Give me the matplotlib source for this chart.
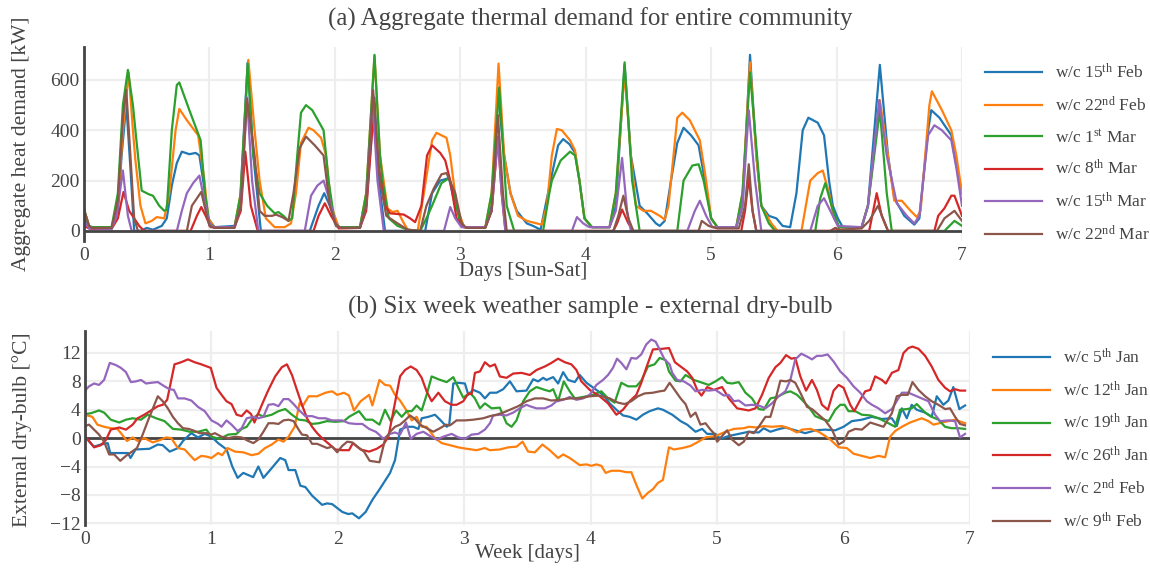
import matplotlib

matplotlib.use("Agg")
import matplotlib.pyplot as plt


# (a) aggregate thermal demand [kW] vs day of week, one list of (day, kW) per week
DEMAND_LABELS = [
    r"w/c 15$^{\mathrm{th}}$ Feb",
    r"w/c 22$^{\mathrm{nd}}$ Feb",
    r"w/c 1$^{\mathrm{st}}$ Mar",
    r"w/c 8$^{\mathrm{th}}$ Mar",
    r"w/c 15$^{\mathrm{th}}$ Mar",
    r"w/c 22$^{\mathrm{nd}}$ Mar",
]

demand_15feb = [
    (0, 70), (0.03, 25), (0.06, 15), (0.22, 15), (0.27, 80), (0.30, 300), (0.337, 505), (0.37, 250),
    (0.40, 0), (0.45, 0), (0.50, 12), (0.55, 5), (0.62, 20), (0.66, 50), (0.70, 180), (0.74, 270),
    (0.78, 315), (0.84, 305), (0.89, 310), (0.92, 300), (0.95, 200), (0.99, 50), (1.04, 15), (1.20, 20),
    (1.24, 80), (1.27, 350), (1.305, 670), (1.35, 300), (1.41, 0), (1.80, 0), (1.87, 100), (1.915, 150),
    (1.96, 100), (2.03, 15), (2.20, 15), (2.25, 100), (2.316, 530), (2.35, 200), (2.40, 0), (2.72, 0),
    (2.775, 150), (2.84, 200), (2.91, 210), (2.96, 100), (3.03, 15), (3.20, 15), (3.25, 100), (3.30, 550),
    (3.35, 300), (3.40, 150), (3.45, 80), (3.53, 30), (3.58, 20), (3.64, 5), (3.72, 200), (3.78, 340),
    (3.82, 365), (3.87, 345), (3.915, 310), (3.95, 200), (3.99, 50), (4.05, 15), (4.19, 15), (4.24, 100),
    (4.31, 660), (4.36, 300), (4.43, 100), (4.49, 70), (4.56, 30), (4.59, 20), (4.63, 40), (4.68, 200),
    (4.73, 350), (4.78, 410), (4.84, 380), (4.90, 340), (4.95, 200), (5.0, 50), (5.05, 15), (5.20, 15),
    (5.25, 100), (5.31, 700), (5.36, 300), (5.40, 100), (5.46, 60), (5.52, 50), (5.57, 20), (5.63, 15),
    (5.68, 150), (5.73, 400), (5.775, 450), (5.85, 430), (5.90, 380), (5.94, 200), (5.97, 100), (6.01, 50),
    (6.05, 15), (6.20, 15), (6.25, 100), (6.345, 660), (6.41, 300), (6.46, 130), (6.54, 60), (6.62, 25),
    (6.66, 50), (6.71, 300), (6.73, 400), (6.755, 480), (6.82, 450), (6.915, 380), (6.94, 300), (7.0, 150),
]
demand_22feb = [
    (0, 85), (0.04, 20), (0.06, 15), (0.22, 15), (0.27, 100), (0.31, 400), (0.356, 630), (0.39, 400),
    (0.41, 280), (0.45, 100), (0.49, 30), (0.54, 40), (0.58, 55), (0.64, 50), (0.68, 150), (0.73, 400),
    (0.76, 485), (0.82, 440), (0.91, 380), (0.96, 200), (0.99, 50), (1.04, 15), (1.20, 15), (1.25, 150),
    (1.31, 680), (1.36, 400), (1.40, 200), (1.45, 50), (1.52, 15), (1.60, 15), (1.65, 30), (1.69, 150),
    (1.73, 350), (1.79, 410), (1.83, 400), (1.89, 370), (1.93, 300), (1.97, 100), (2.03, 15), (2.20, 15),
    (2.25, 150), (2.316, 695), (2.36, 300), (2.42, 90), (2.46, 75), (2.50, 80), (2.54, 40), (2.58, 5),
    (2.66, 0), (2.71, 150), (2.775, 360), (2.81, 390), (2.89, 370), (2.92, 300), (2.97, 100), (3.03, 15),
    (3.20, 15), (3.25, 150), (3.305, 665), (3.35, 300), (3.40, 150), (3.46, 60), (3.53, 40), (3.61, 30),
    (3.65, 25), (3.69, 100), (3.73, 300), (3.77, 405), (3.81, 400), (3.875, 360), (3.915, 320), (3.95, 200),
    (3.99, 50), (4.05, 15), (4.19, 15), (4.24, 150), (4.31, 630), (4.36, 300), (4.40, 100), (4.46, 80),
    (4.52, 80), (4.59, 60), (4.63, 45), (4.66, 100), (4.73, 450), (4.77, 470), (4.83, 440), (4.91, 360),
    (4.96, 200), (5.0, 50), (5.05, 15), (5.20, 15), (5.25, 150), (5.31, 670), (5.36, 300), (5.40, 100),
    (5.48, 30), (5.53, 0), (5.72, 0), (5.79, 200), (5.85, 230), (5.89, 240), (5.94, 150), (5.98, 50),
    (6.02, 15), (6.20, 15), (6.25, 100), (6.345, 520), (6.41, 300), (6.46, 120), (6.52, 120), (6.59, 80),
    (6.64, 55), (6.67, 80), (6.74, 500), (6.76, 555), (6.84, 480), (6.915, 400), (6.955, 300), (7.0, 150),
]
demand_1mar = [
    (0, 87), (0.04, 20), (0.06, 15), (0.22, 15), (0.27, 150), (0.31, 500), (0.35, 640), (0.39, 500),
    (0.42, 350), (0.46, 160), (0.52, 145), (0.55, 140), (0.60, 100), (0.64, 80), (0.66, 85), (0.70, 400),
    (0.74, 580), (0.76, 590), (0.84, 480), (0.93, 360), (0.965, 150), (1.0, 30), (1.04, 15), (1.20, 15),
    (1.25, 150), (1.305, 665), (1.35, 300), (1.40, 150), (1.46, 100), (1.52, 70), (1.55, 75), (1.59, 60),
    (1.63, 40), (1.66, 50), (1.70, 300), (1.73, 470), (1.77, 500), (1.82, 480), (1.91, 400), (1.95, 200),
    (2.0, 30), (2.04, 15), (2.20, 15), (2.25, 150), (2.316, 700), (2.36, 300), (2.38, 200), (2.43, 50),
    (2.50, 20), (2.58, 5), (2.68, 0), (2.73, 50), (2.775, 100), (2.85, 190), (2.91, 210), (2.95, 150),
    (2.99, 50), (3.03, 15), (3.20, 15), (3.25, 150), (3.31, 570), (3.37, 100), (3.43, 0), (3.66, 0),
    (3.71, 150), (3.73, 200), (3.80, 280), (3.875, 315), (3.915, 300), (3.95, 200), (3.99, 50), (4.05, 15),
    (4.19, 15), (4.24, 150), (4.31, 670), (4.37, 200), (4.43, 0), (4.73, 0), (4.78, 200), (4.85, 260),
    (4.90, 265), (4.94, 200), (5.0, 50), (5.05, 15), (5.20, 15), (5.25, 150), (5.31, 630), (5.40, 100),
    (5.46, 30), (5.51, 0), (5.83, 0), (5.87, 130), (5.91, 190), (5.96, 100), (6.02, 15), (6.20, 15),
    (6.25, 100), (6.345, 480), (6.40, 150), (6.44, 0), (6.86, 0), (6.94, 40), (7.0, 20),
]
demand_8mar = [
    (0, 20), (0.04, 10), (0.06, 8), (0.22, 8), (0.27, 50), (0.315, 155), (0.36, 80), (0.44, 20),
    (0.47, 5), (0.50, 0), (0.85, 0), (0.90, 60), (0.935, 95), (0.97, 60), (1.01, 15), (1.20, 15),
    (1.25, 80), (1.286, 315), (1.33, 100), (1.385, 0), (1.83, 0), (1.87, 60), (1.92, 110), (1.97, 60),
    (2.03, 10), (2.20, 12), (2.25, 80), (2.305, 450), (2.35, 250), (2.40, 100), (2.44, 70), (2.55, 65),
    (2.60, 50), (2.64, 35), (2.69, 100), (2.735, 300), (2.775, 340), (2.84, 310), (2.88, 280), (2.92, 200),
    (2.97, 50), (3.03, 15), (3.20, 15), (3.25, 80), (3.30, 370), (3.33, 150), (3.36, 0), (4.22, 0),
    (4.25, 30), (4.29, 85), (4.34, 30), (4.38, 0), (5.24, 0), (5.27, 80), (5.30, 210), (5.33, 80),
    (5.36, 0), (5.95, 0), (5.99, 10), (6.03, 0), (6.26, 0), (6.32, 150), (6.36, 60), (6.41, 0),
    (6.78, 0), (6.81, 60), (6.86, 90), (6.915, 140), (6.94, 140), (6.97, 100), (7.0, 60),
]
demand_15mar = [
    (0, 40), (0.04, 10), (0.22, 8), (0.26, 60), (0.31, 240), (0.35, 60), (0.38, 0), (0.74, 0),
    (0.78, 80), (0.82, 150), (0.87, 190), (0.92, 220), (0.96, 120), (1.0, 30), (1.03, 15), (1.20, 15),
    (1.25, 100), (1.30, 530), (1.34, 200), (1.39, 0), (1.76, 0), (1.81, 140), (1.86, 180), (1.91, 200),
    (1.96, 120), (2.01, 20), (2.05, 12), (2.20, 12), (2.25, 100), (2.30, 520), (2.34, 200), (2.39, 0),
    (2.87, 0), (2.92, 95), (2.96, 50), (3.01, 15), (3.20, 15), (3.25, 80), (3.30, 375), (3.33, 150),
    (3.36, 0), (3.89, 0), (3.93, 55), (3.98, 30), (4.03, 15), (4.19, 15), (4.24, 80), (4.29, 290),
    (4.33, 80), (4.36, 0), (4.81, 0), (4.87, 80), (4.91, 120), (4.96, 60), (5.01, 15), (5.20, 15),
    (5.25, 100), (5.30, 480), (5.35, 200), (5.40, 0), (5.79, 0), (5.85, 100), (5.90, 130), (5.95, 80),
    (6.01, 20), (6.20, 15), (6.25, 100), (6.34, 520), (6.40, 300), (6.48, 110), (6.56, 60), (6.62, 30),
    (6.66, 60), (6.73, 380), (6.78, 420), (6.84, 400), (6.915, 360), (6.955, 250), (7.0, 100),
]
demand_22mar = [
    (0, 85), (0.04, 20), (0.06, 12), (0.22, 12), (0.27, 120), (0.31, 450), (0.337, 560), (0.37, 300),
    (0.40, 50), (0.43, 0), (0.82, 0), (0.86, 100), (0.935, 155), (0.97, 80), (1.0, 20), (1.04, 12),
    (1.20, 12), (1.25, 100), (1.30, 525), (1.36, 300), (1.40, 80), (1.44, 60), (1.50, 60), (1.53, 65),
    (1.58, 55), (1.63, 40), (1.67, 150), (1.72, 330), (1.77, 375), (1.84, 340), (1.91, 300), (1.96, 100),
    (2.01, 20), (2.05, 12), (2.20, 12), (2.25, 100), (2.305, 560), (2.36, 200), (2.41, 60), (2.50, 30),
    (2.58, 5), (2.68, 0), (2.73, 100), (2.79, 170), (2.85, 225), (2.89, 230), (2.96, 150), (3.01, 30),
    (3.05, 12), (3.20, 12), (3.25, 80), (3.30, 460), (3.34, 150), (3.37, 0), (4.22, 0), (4.26, 60),
    (4.30, 140), (4.34, 50), (4.38, 0), (4.90, 0), (4.925, 40), (4.98, 20), (5.05, 10), (5.22, 10),
    (5.27, 100), (5.30, 265), (5.33, 80), (5.36, 0), (5.95, 0), (5.99, 12), (6.03, 5), (6.20, 10),
    (6.26, 40), (6.33, 100), (6.37, 50), (6.41, 0), (6.80, 0), (6.86, 50), (6.94, 80), (6.97, 60),
    (7.0, 40),
]

# (b) external dry-bulb [degC] vs day of week, one list of (day, degC) per week
WEATHER_LABELS = [
    r"w/c 5$^{\mathrm{th}}$ Jan",
    r"w/c 12$^{\mathrm{th}}$ Jan",
    r"w/c 19$^{\mathrm{th}}$ Jan",
    r"w/c 26$^{\mathrm{th}}$ Jan",
    r"w/c 2$^{\mathrm{nd}}$ Feb",
    r"w/c 9$^{\mathrm{th}}$ Feb",
]

temp_5jan = [
    (0, 0.2), (0.07, -1.2), (0.125, -0.9), (0.18, -0.7), (0.20, -2.1), (0.34, -2.1), (0.36, -2.8),
    (0.40, -1.6), (0.51, -1.5), (0.576, -0.9), (0.615, -1.0), (0.67, -1.9), (0.735, -1.4), (0.775, -0.4),
    (0.84, 0.7), (0.894, 0.1), (0.947, 0.6), (1.0, 0.2), (1.053, -0.7), (1.12, -1.6), (1.165, -4.0),
    (1.207, -5.6), (1.252, -4.9), (1.33, -5.5), (1.371, -4.0), (1.411, -5.6), (1.464, -4.5), (1.544, -2.8),
    (1.584, -3.1), (1.61, -4.5), (1.663, -4.5), (1.703, -6.7), (1.743, -6.9), (1.796, -8.1), (1.875, -9.4),
    (1.915, -9.2), (1.955, -9.3), (2.035, -10.4), (2.082, -10.7), (2.114, -10.6), (2.167, -11.3),
    (2.22, -10.4), (2.273, -8.7), (2.334, -7.1), (2.413, -4.9), (2.452, -3.1), (2.492, 1.2), (2.545, 1.6),
    (2.597, 1.6), (2.637, 1.3), (2.663, 2.8), (2.716, 3.0), (2.768, 3.3), (2.808, 2.6), (2.861, 1.6),
    (2.881, 1.9), (2.913, 7.7), (2.953, 7.8), (3.005, 7.7), (3.032, 6.1), (3.071, 6.8), (3.124, 6.4),
    (3.163, 5.6), (3.203, 6.4), (3.255, 6.4), (3.308, 6.9), (3.361, 8.0), (3.413, 6.6), (3.492, 6.7),
    (3.545, 8.3), (3.584, 8.0), (3.624, 8.5), (3.65, 8.2), (3.703, 8.6), (3.742, 7.7), (3.782, 9.3),
    (3.821, 8.2), (3.874, 7.9), (3.913, 8.9), (3.966, 7.8), (4.045, 6.8), (4.097, 6.1), (4.15, 4.9),
    (4.203, 4.0), (4.255, 3.2), (4.308, 3.0), (4.361, 2.6), (4.413, 3.3), (4.466, 3.8), (4.532, 4.2),
    (4.571, 4.0), (4.645, 3.3), (4.711, 2.4), (4.763, 1.9), (4.829, 0.9), (4.882, 1.3), (4.921, 0.6),
    (4.987, 0.6), (5.026, -0.1), (5.092, 0.3), (5.171, 0.6), (5.25, 0.9), (5.329, 0.8), (5.368, 1.4),
    (5.421, 0.9), (5.474, 1.2), (5.54, 1.5), (5.618, 1.1), (5.697, 0.7), (5.776, 1.1), (5.855, 1.2),
    (5.934, 1.1), (6.0, 1.6), (6.066, 2.4), (6.145, 2.6), (6.224, 3.0), (6.303, 2.7), (6.382, 2.8),
    (6.421, 1.7), (6.461, 4.2), (6.5, 2.8), (6.539, 4.7), (6.579, 4.0), (6.645, 3.6), (6.697, 3.0),
    (6.737, 5.9), (6.789, 4.7), (6.829, 5.3), (6.868, 7.2), (6.916, 4.1), (6.961, 4.6),
]
temp_12jan = [
    (0, 3.3), (0.058, 3.0), (0.098, 1.9), (0.151, 1.6), (0.204, 1.4), (0.257, 1.3), (0.284, 0.7),
    (0.332, -0.4), (0.377, 0.1), (0.416, -0.4), (0.469, 0.0), (0.536, -0.6), (0.589, -0.3), (0.642, 0.1),
    (0.682, 0.0), (0.735, -1.4), (0.788, -1.6), (0.867, -3.1), (0.92, -2.5), (0.96, -2.6), (1.0, -2.8),
    (1.053, -2.1), (1.085, -2.4), (1.127, -1.4), (1.186, -1.9), (1.252, -2.0), (1.318, -2.4),
    (1.371, -2.2), (1.424, -1.4), (1.477, -0.9), (1.53, -0.2), (1.57, -0.5), (1.61, 0.2), (1.658, 1.6),
    (1.698, 5.0), (1.721, 4.5), (1.769, 5.9), (1.836, 5.9), (1.902, 6.4), (1.955, 6.6), (1.995, 6.1),
    (2.048, 6.4), (2.088, 6.0), (2.127, 3.9), (2.18, 5.2), (2.247, 6.1), (2.273, 4.6), (2.329, 8.2),
    (2.373, 7.5), (2.413, 7.4), (2.452, 6.1), (2.492, 5.3), (2.539, 4.0), (2.584, 2.5), (2.623, 3.0),
    (2.663, 1.6), (2.702, 1.6), (2.768, 0.0), (2.821, -0.7), (2.887, -1.0), (2.953, -1.3), (3.018, -1.5),
    (3.097, -1.7), (3.163, -1.4), (3.203, -1.7), (3.281, -1.6), (3.347, -1.3), (3.413, -1.2),
    (3.461, -0.5), (3.505, -1.9), (3.558, -2.0), (3.618, -0.9), (3.676, -1.7), (3.742, -2.8),
    (3.782, -2.3), (3.834, -2.8), (3.913, -3.8), (3.966, -3.7), (4.005, -3.9), (4.045, -3.7),
    (4.084, -3.9), (4.118, -4.9), (4.163, -4.6), (4.229, -4.6), (4.282, -4.8), (4.321, -4.8),
    (4.361, -6.6), (4.408, -8.5), (4.453, -7.7), (4.492, -7.2), (4.532, -6.3), (4.571, -5.9),
    (4.619, -1.3), (4.658, -1.6), (4.724, -1.4), (4.79, -1.1), (4.842, -0.6), (4.908, 0.1), (4.987, 0.3),
    (5.066, 0.9), (5.132, 1.3), (5.211, 1.4), (5.25, 1.6), (5.316, 1.5), (5.368, 1.7), (5.434, 1.6),
    (5.513, 1.7), (5.566, 1.4), (5.632, 0.8), (5.671, 1.2), (5.737, 1.3), (5.803, 0.9), (5.855, 0.3),
    (5.895, -0.2), (5.961, -1.3), (6.026, -1.4), (6.079, -2.2), (6.145, -2.5), (6.211, -2.8),
    (6.276, -2.5), (6.329, -2.7), (6.368, 0.2), (6.408, 1.0), (6.461, 1.6), (6.526, 2.2), (6.618, 2.8),
    (6.671, 2.4), (6.711, 1.9), (6.803, 2.3), (6.882, 2.6), (6.961, 2.1),
]
temp_19jan = [
    (0, 3.4), (0.045, 3.5), (0.111, 3.9), (0.151, 3.6), (0.204, 2.6), (0.271, 2.2), (0.324, 2.6),
    (0.377, 2.8), (0.443, 2.6), (0.496, 3.3), (0.562, 2.8), (0.629, 2.4), (0.695, 1.3), (0.761, 1.2),
    (0.828, 0.9), (0.894, 0.9), (0.96, 1.2), (1.0, 0.2), (1.066, -0.1), (1.133, 0.5), (1.199, 0.6),
    (1.239, 1.3), (1.279, 1.6), (1.318, 2.6), (1.371, 3.4), (1.411, 3.0), (1.477, 3.3), (1.53, 3.8),
    (1.584, 4.1), (1.637, 3.3), (1.69, 2.6), (1.743, 2.5), (1.796, 2.0), (1.849, 2.1), (1.915, 2.4),
    (1.981, 2.3), (2.048, 2.4), (2.088, 3.0), (2.167, 3.8), (2.22, 2.6), (2.273, 2.6), (2.329, 1.9),
    (2.373, 4.0), (2.418, 2.4), (2.46, 3.9), (2.505, 3.0), (2.545, 3.8), (2.584, 3.8), (2.623, 4.6),
    (2.663, 3.9), (2.702, 6.1), (2.742, 8.7), (2.795, 8.3), (2.861, 7.9), (2.913, 8.6), (2.953, 7.1),
    (2.992, 5.7), (3.045, 6.4), (3.084, 5.6), (3.124, 4.2), (3.163, 4.9), (3.216, 4.2), (3.281, 4.3),
    (3.334, 2.1), (3.374, 1.6), (3.413, 2.5), (3.466, 5.2), (3.518, 6.6), (3.571, 7.2), (3.637, 6.8),
    (3.676, 6.6), (3.703, 6.9), (3.742, 5.2), (3.787, 8.0), (3.834, 6.6), (3.874, 5.6), (3.939, 5.8),
    (4.018, 6.1), (4.084, 6.6), (4.137, 5.6), (4.189, 5.0), (4.242, 7.8), (4.295, 7.3), (4.361, 7.3),
    (4.40, 8.1), (4.453, 10.1), (4.505, 10.4), (4.545, 11.3), (4.592, 11.0), (4.619, 9.4), (4.671, 8.1),
    (4.711, 8.0), (4.75, 8.9), (4.816, 8.2), (4.882, 7.8), (4.934, 7.5), (4.987, 8.0), (5.039, 8.6),
    (5.079, 7.8), (5.118, 7.7), (5.171, 7.9), (5.224, 6.4), (5.276, 5.6), (5.329, 4.1), (5.368, 4.0),
    (5.421, 5.6), (5.474, 5.8), (5.54, 6.4), (5.579, 6.6), (5.632, 6.1), (5.671, 5.4), (5.724, 4.4),
    (5.776, 3.1), (5.829, 2.7), (5.882, 2.4), (5.934, 4.0), (5.974, 4.7), (6.008, 4.7), (6.039, 3.8),
    (6.092, 3.8), (6.145, 3.3), (6.211, 3.2), (6.276, 2.8), (6.355, 2.1), (6.408, 1.6), (6.447, 4.0),
    (6.5, 4.1), (6.539, 4.2), (6.579, 4.8), (6.645, 3.6), (6.697, 3.0), (6.75, 2.6), (6.803, 1.6),
    (6.855, 1.4), (6.908, 1.4), (6.961, 1.3),
]
temp_26jan = [
    (0, 0.3), (0.072, -1.3), (0.125, -1.0), (0.164, -0.3), (0.204, 1.2), (0.271, 1.5), (0.324, 1.2),
    (0.377, 1.9), (0.416, 2.8), (0.469, 3.3), (0.523, 3.9), (0.576, 4.5), (0.615, 4.7), (0.65, 5.4),
    (0.708, 10.4), (0.761, 10.7), (0.814, 11.1), (0.867, 10.7), (0.92, 10.4), (0.995, 9.9), (1.04, 7.1),
    (1.08, 6.1), (1.119, 5.2), (1.159, 4.8), (1.199, 3.3), (1.239, 3.1), (1.279, 3.9), (1.313, 3.4),
    (1.34, 2.2), (1.371, 3.5), (1.411, 5.2), (1.451, 6.8), (1.504, 8.7), (1.557, 10.0), (1.597, 10.4),
    (1.637, 8.9), (1.676, 6.8), (1.716, 4.7), (1.756, 2.8), (1.796, 1.6), (1.836, 0.7), (1.875, 0.0),
    (1.928, -0.8), (1.981, -1.6), (2.034, -1.7), (2.088, -1.7), (2.119, -0.7), (2.18, -1.6),
    (2.247, -1.9), (2.308, -1.5), (2.36, -0.9), (2.40, 0.2), (2.439, 3.8), (2.492, 8.7), (2.531, 9.6),
    (2.576, 10.1), (2.623, 9.6), (2.663, 8.5), (2.702, 6.6), (2.742, 5.2), (2.795, 6.4), (2.847, 5.2),
    (2.90, 4.7), (2.939, 4.7), (2.992, 5.2), (3.032, 6.3), (3.058, 6.2), (3.084, 9.2), (3.124, 9.4),
    (3.163, 10.7), (3.203, 10.1), (3.242, 10.4), (3.281, 8.7), (3.334, 8.5), (3.387, 9.1), (3.453, 9.2),
    (3.518, 8.9), (3.571, 9.6), (3.637, 10.1), (3.689, 10.6), (3.742, 11.2), (3.795, 10.7),
    (3.847, 10.4), (3.887, 9.6), (3.926, 8.0), (3.992, 6.8), (4.071, 5.9), (4.137, 4.9), (4.203, 3.3),
    (4.255, 4.0), (4.308, 5.2), (4.361, 6.1), (4.40, 7.8), (4.439, 9.9), (4.492, 12.5), (4.571, 12.6),
    (4.619, 12.7), (4.666, 10.7), (4.711, 10.1), (4.763, 9.4), (4.803, 8.5), (4.842, 6.8), (4.876, 6.0),
    (4.921, 7.2), (4.974, 6.8), (5.039, 7.2), (5.092, 5.6), (5.158, 4.2), (5.25, 3.9), (5.303, 4.2),
    (5.355, 6.1), (5.408, 8.5), (5.461, 10.0), (5.50, 10.6), (5.545, 11.7), (5.587, 11.2),
    (5.618, 11.3), (5.658, 8.7), (5.703, 6.7), (5.75, 8.2), (5.789, 6.8), (5.829, 4.7), (5.876, 4.0),
    (5.921, 6.7), (5.961, 7.5), (6.0, 7.1), (6.053, 4.7), (6.084, 3.8), (6.132, 5.4), (6.171, 6.6),
    (6.211, 6.8), (6.25, 8.7), (6.303, 8.2), (6.334, 7.7), (6.382, 9.2), (6.434, 9.6), (6.474, 12.0),
    (6.513, 12.7), (6.545, 12.9), (6.592, 12.6), (6.645, 11.6), (6.697, 10.1), (6.75, 8.2),
    (6.803, 7.1), (6.842, 6.6), (6.882, 6.9), (6.921, 6.7), (6.961, 6.7),
]
temp_2feb = [
    (0, 6.7), (0.032, 7.3), (0.072, 7.7), (0.111, 7.5), (0.151, 8.2), (0.196, 10.6), (0.244, 10.3),
    (0.284, 9.9), (0.324, 9.3), (0.363, 7.9), (0.403, 8.0), (0.443, 8.2), (0.483, 7.7), (0.523, 7.8),
    (0.576, 7.9), (0.629, 7.3), (0.668, 6.9), (0.703, 6.8), (0.735, 5.6), (0.788, 5.6), (0.841, 5.3),
    (0.894, 4.4), (0.947, 3.8), (1.0, 2.5), (1.053, 2.0), (1.08, 1.6), (1.119, 2.5), (1.159, 1.9),
    (1.207, 1.0), (1.239, 1.4), (1.279, 2.8), (1.332, 3.0), (1.371, 2.8), (1.411, 3.0), (1.451, 4.7),
    (1.491, 4.8), (1.53, 4.5), (1.57, 5.5), (1.61, 5.5), (1.65, 4.8), (1.69, 4.0), (1.743, 3.1),
    (1.796, 3.1), (1.849, 2.8), (1.902, 2.8), (1.955, 2.5), (2.034, 2.5), (2.088, 2.1), (2.141, 2.0),
    (2.194, 2.0), (2.247, 1.3), (2.30, 0.9), (2.326, 0.5), (2.36, -0.1), (2.413, 0.6), (2.452, 0.8),
    (2.492, 0.5), (2.539, 2.2), (2.576, -0.1), (2.623, 0.6), (2.676, 0.9), (2.729, 0.3), (2.782, -0.2),
    (2.834, 0.2), (2.90, 0.6), (2.953, 0.1), (3.005, -0.1), (3.058, 0.5), (3.111, 0.6), (3.163, 1.2),
    (3.203, 2.1), (3.229, 3.2), (3.281, 3.3), (3.334, 3.2), (3.387, 3.6), (3.439, 4.2), (3.492, 4.7),
    (3.518, 4.5), (3.571, 4.2), (3.637, 4.2), (3.689, 4.6), (3.729, 5.2), (3.782, 5.4), (3.834, 5.8),
    (3.887, 5.4), (3.939, 5.6), (3.992, 6.1), (4.045, 7.5), (4.097, 8.2), (4.137, 8.9), (4.176, 9.9),
    (4.208, 11.2), (4.242, 10.6), (4.282, 9.7), (4.321, 11.3), (4.361, 11.2), (4.40, 11.8),
    (4.439, 13.2), (4.479, 13.9), (4.513, 13.6), (4.545, 12.5), (4.584, 11.1), (4.624, 10.4),
    (4.645, 9.2), (4.684, 8.2), (4.737, 8.0), (4.79, 7.4), (4.829, 6.6), (4.882, 6.8), (4.934, 6.7),
    (4.987, 6.8), (5.053, 6.0), (5.092, 6.1), (5.132, 5.2), (5.171, 5.3), (5.224, 4.6), (5.276, 4.7),
    (5.329, 4.6), (5.382, 4.2), (5.434, 4.9), (5.487, 5.9), (5.54, 6.6), (5.579, 8.2), (5.618, 11.1),
    (5.666, 11.9), (5.711, 11.5), (5.75, 11.1), (5.789, 11.6), (5.829, 11.6), (5.874, 11.8),
    (5.921, 10.8), (5.974, 9.4), (6.026, 8.5), (6.079, 7.3), (6.132, 6.4), (6.184, 5.2), (6.224, 4.7),
    (6.276, 4.2), (6.329, 3.5), (6.382, 4.1), (6.434, 5.6), (6.461, 6.4), (6.513, 6.4), (6.566, 6.0),
    (6.618, 5.6), (6.671, 5.2), (6.724, 3.3), (6.763, 2.4), (6.829, 2.5), (6.882, 2.4), (6.921, 0.1),
    (6.961, 0.6),
]
temp_9feb = [
    (0, 1.7), (0.032, 1.9), (0.072, 1.2), (0.111, 0.5), (0.151, -0.5), (0.191, -2.3), (0.231, -2.3),
    (0.279, -3.2), (0.324, -2.5), (0.363, -2.0), (0.411, -1.4), (0.456, 0.5), (0.501, 2.6), (0.544, 4.5),
    (0.576, 5.9), (0.615, 5.2), (0.655, 4.2), (0.695, 3.0), (0.735, 2.1), (0.775, 1.4), (0.82, 1.3),
    (0.854, 1.1), (0.907, 0.7), (0.96, 0.7), (1.0, 0.5), (1.027, 0.7), (1.08, 0.2), (1.133, 0.0),
    (1.186, 0.2), (1.239, 0.1), (1.292, -0.4), (1.332, -0.7), (1.371, -0.2), (1.411, 0.9), (1.451, 2.1),
    (1.491, 2.1), (1.53, 2.0), (1.57, 2.5), (1.61, 2.6), (1.65, 2.4), (1.69, 1.2), (1.716, 0.5),
    (1.756, 0.4), (1.796, -0.8), (1.836, -0.8), (1.875, -1.1), (1.915, -1.4), (1.955, -1.2),
    (1.995, -2.0), (2.034, -1.1), (2.074, -0.5), (2.114, -0.6), (2.154, -1.2), (2.207, -1.9),
    (2.252, -3.2), (2.329, -3.4), (2.373, -0.2), (2.413, 0.9), (2.452, 1.6), (2.492, 1.9), (2.531, 2.5),
    (2.571, 3.2), (2.61, 2.7), (2.65, 1.9), (2.702, 1.4), (2.755, 0.9), (2.808, 1.4), (2.855, 1.9),
    (2.887, 1.8), (2.939, 2.5), (3.005, 2.5), (3.071, 2.6), (3.15, 2.8), (3.203, 3.1), (3.255, 3.3),
    (3.308, 3.6), (3.361, 4.0), (3.426, 4.5), (3.492, 5.2), (3.558, 5.6), (3.624, 5.6), (3.689, 5.3),
    (3.755, 5.4), (3.834, 5.6), (3.913, 5.6), (3.992, 5.9), (4.071, 6.0), (4.15, 5.6), (4.216, 5.0),
    (4.268, 4.8), (4.321, 5.2), (4.374, 5.9), (4.426, 6.3), (4.492, 6.4), (4.545, 6.6), (4.584, 6.7),
    (4.624, 7.8), (4.671, 6.6), (4.711, 5.6), (4.75, 4.8), (4.79, 3.0), (4.829, 3.6), (4.868, 1.9),
    (4.908, 2.1), (4.947, 1.2), (4.974, 0.7), (5.0, -0.5), (5.034, 0.2), (5.079, 1.1), (5.118, -0.2),
    (5.171, -1.0), (5.211, -0.5), (5.25, 0.9), (5.289, 0.7), (5.329, 1.6), (5.382, 3.0), (5.421, 3.0),
    (5.461, 5.4), (5.50, 8.1), (5.545, 8.0), (5.579, 8.2), (5.618, 7.8), (5.658, 6.4), (5.711, 4.4),
    (5.75, 4.1), (5.803, 3.3), (5.855, 2.5), (5.908, 1.2), (5.961, -0.9), (6.0, -0.5), (6.039, 0.9),
    (6.092, 1.3), (6.145, 1.2), (6.211, 2.2), (6.263, 1.9), (6.316, 1.6), (6.382, 3.5), (6.421, 5.9),
    (6.461, 6.1), (6.508, 6.1), (6.545, 7.9), (6.592, 6.8), (6.645, 5.9), (6.697, 5.2), (6.75, 4.7),
    (6.803, 4.1), (6.842, 4.2), (6.882, 3.0), (6.921, 2.0), (6.961, 1.8),
]

DEMAND_SERIES = [demand_15feb, demand_22feb, demand_1mar, demand_8mar, demand_15mar, demand_22mar]
WEATHER_SERIES = [temp_5jan, temp_12jan, temp_19jan, temp_26jan, temp_2feb, temp_9feb]
COLORS = ["#1f77b4", "#ff7f0e", "#2ca02c", "#d62728", "#9467bd", "#8c564b"]
DAY_TICKS = [0, 1, 2, 3, 4, 5, 6, 7]

FONT = "Liberation Serif"
TEXT_COLOR = "#444444"
GRID_COLOR = "#eeeeee"

plt.rcParams["font.family"] = [FONT, "DejaVu Serif"]
plt.rcParams["mathtext.fontset"] = "custom"
plt.rcParams["mathtext.rm"] = FONT
plt.rcParams["mathtext.it"] = FONT + ":italic"
plt.rcParams["mathtext.bf"] = FONT + ":bold"

W, H = 1150, 568


def fx(px):
    return px / W


def fy(py):
    return 1 - py / H


def style_axes(ax, zero_on_top):
    for side in ["top", "right", "bottom"]:
        ax.spines[side].set_visible(False)
    ax.spines["left"].set_color(TEXT_COLOR)
    ax.spines["left"].set_linewidth(2.0)
    ax.spines["left"].set_zorder(5)
    ax.set_xticks(DAY_TICKS)
    ax.set_xlim(0, 7)
    ax.tick_params(length=0, labelsize=14, labelcolor=TEXT_COLOR)
    ax.tick_params(axis="x", pad=4)
    ax.tick_params(axis="y", pad=3)
    ax.grid(True, color=GRID_COLOR, linewidth=1.6)
    ax.set_axisbelow(True)
    ax.axhline(0, color=TEXT_COLOR, linewidth=2.0, zorder=4 if zero_on_top else 1.5)


def draw_series(ax, series_list, labels):
    for pts, label, color in zip(series_list, labels, COLORS):
        days = [p[0] for p in pts]
        vals = [p[1] for p in pts]
        ax.plot(days, vals, color=color, linewidth=1.6, label=label, zorder=2,
                solid_joinstyle="round")


def add_legend(ax, left_px, top_px):
    ax.legend(loc="upper left", bbox_to_anchor=(fx(left_px), fy(top_px)),
              bbox_transform=fig.transFigure, frameon=False, fontsize=12.5,
              handlelength=3.3, handletextpad=0.75, labelspacing=0.78,
              borderaxespad=0, borderpad=0, labelcolor=TEXT_COLOR)


fig = plt.figure(figsize=(W / 100, H / 100), dpi=100)

# top panel: aggregate heat demand
ax1 = fig.add_axes([fx(84), fy(241), fx(962) - fx(84), fy(47) - fy(241)])
draw_series(ax1, DEMAND_SERIES, DEMAND_LABELS)
style_axes(ax1, zero_on_top=True)
ax1.set_ylim(-40, 731)
ax1.set_yticks([0, 200, 400, 600])
ax1.set_xlabel("Days [Sun-Sat]", fontsize=15, color=TEXT_COLOR, labelpad=-1)
ax1.set_ylabel("Aggregate heat demand [kW]", fontsize=15.5, color=TEXT_COLOR, va="center")
ax1.yaxis.set_label_coords(fx(22), fy(144), transform=fig.transFigure)
add_legend(ax1, 985, 63)
fig.text(fx(590), fy(19), "(a) Aggregate thermal demand for entire community", ha="center",
         va="center", fontsize=18, color=TEXT_COLOR)

# bottom panel: external dry-bulb temperature
ax2 = fig.add_axes([fx(85), fy(525.4), fx(970) - fx(85), fy(331) - fy(525.4)])
draw_series(ax2, WEATHER_SERIES, WEATHER_LABELS)
style_axes(ax2, zero_on_top=False)
ax2.set_ylim(-12.3, 15.1)
ax2.set_yticks([-12, -8, -4, 0, 4, 8, 12])
ax2.set_yticklabels(["\u221212", "\u22128", "\u22124", "0", "4", "8", "12"])
ax2.set_xlabel("Week [days]", fontsize=15, color=TEXT_COLOR, labelpad=-3)
ax2.set_ylabel("External dry-bulb [\u00b0C]", fontsize=15.5, color=TEXT_COLOR, va="center")
ax2.yaxis.set_label_coords(fx(22), fy(430), transform=fig.transFigure)
add_legend(ax2, 993, 348)
fig.text(fx(590), fy(307), "(b) Six week weather sample - external dry-bulb", ha="center",
         va="center", fontsize=18, color=TEXT_COLOR)

fig.savefig("out.png", dpi=100, facecolor="white")
